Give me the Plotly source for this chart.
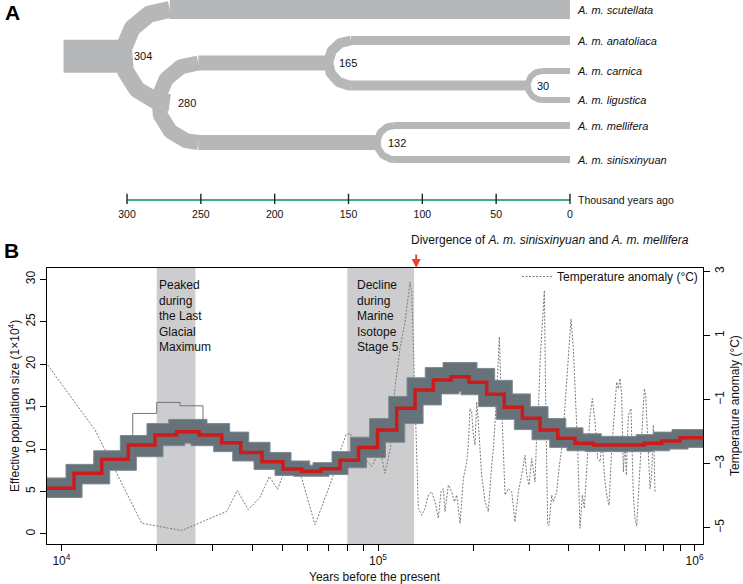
import numpy as np
import plotly.graph_objects as go

FONT = "Liberation Sans, Arial, Helvetica, sans-serif"

# ---------------- Panel A data: divergence tree (thousand years ago) ----------------
tip_names = ["A. m. scutellata", "A. m. anatoliaca", "A. m. carnica",
             "A. m. ligustica", "A. m. mellifera", "A. m. sinisxinyuan"]
tip_lane = [9.5, 40.5, 71.0, 100.0, 125.5, 159.5]      # vertical lane of each tip
tip_width = [19, 9, 6, 6, 7, 7]
node_label = ["304", "280", "165", "30", "132"]
node_age = [304, 280, 165, 30, 132]
node_children = [("t0", "n1"), ("n2", "n4"), ("t1", "n3"), ("t2", "t3"), ("t4", "t5")]
node_arc_width = [17, 15, 10, 6, 7]
node_stem_width = [33, 15, 15, 10, 15]
node_label_shift = [11, 19, 11, 9, 11]
root_stem_age = 343
tree_ticks = [300, 250, 200, 150, 100, 50, 0]

# ---------------- Panel B data: PSMC + temperature ----------------
psmc_time = [8800, 10960, 13410, 16270, 19750, 23130, 27200, 32080, 36850, 43010,
             50110, 57410, 66070, 75860, 86780, 99640, 114600, 130900, 149500, 170100,
             193800, 220400, 250600, 285700, 324900, 369600, 419000, 478600, 693600,
             787000, 899300, 1100000]
psmc_ne = [5.38, 7.15, 8.8, 10.48, 11.66, 12.05, 11.66, 10.75, 9.6, 8.5,
           7.64, 7.4, 7.68, 8.68, 10.2, 12.25, 14.8, 16.96, 18.14, 18.53,
           17.86, 16.45, 14.92, 13.62, 12.25, 11.27, 10.68, 10.47, 10.68, 10.96, 11.34]
# bootstrap envelope (upper / lower edges of the grey replicate band)
boot_upper_time = [8800, 10340, 12650, 15350, 18630, 21820, 28830, 34000, 39060, 45590,
                   53120, 60850, 62330, 71570, 81870, 94000, 108100, 123500, 141000, 160500,
                   205400, 233600, 265600, 302800, 344400, 391800, 444100, 507300, 654300,
                   742500, 848400, 1100000]
boot_upper = [6.6, 8.2, 9.8, 11.6, 13.0, 13.5, 13.0, 12.0, 10.8, 9.6,
              8.6, 8.1, 8.4, 9.7, 11.4, 13.6, 16.2, 18.4, 19.6, 20.2,
              19.5, 18.1, 16.5, 15.0, 13.6, 12.5, 11.8, 11.5, 11.7, 12.0, 12.3]
boot_lower_time = [8800, 11620, 14210, 17250, 20940, 24520, 25660, 30260, 34760, 40580,
                   47270, 54160, 70030, 80410, 91990, 105600, 121500, 138800, 158500, 180300,
                   182800, 207900, 236400, 269500, 306500, 348700, 395300, 451500, 735200,
                   834200, 953300, 1100000]
boot_lower = [4.3, 5.9, 7.5, 9.1, 10.4, 10.7, 10.4, 9.7, 8.6, 7.6,
              6.9, 6.8, 7.0, 7.8, 9.0, 10.8, 13.0, 15.2, 16.5, 16.8,
              16.4, 15.0, 13.5, 12.3, 11.1, 10.2, 9.8, 9.7, 9.8, 10.0, 10.2]
outlier_time = [13400, 16800, 20000, 23700, 28000, 33000, 37000]
outlier_ne = [9.0, 14.2, 15.5, 15.1, 12.9, 11.6, 11.6]

temp_time_ka = [9.05, 12.77, 17.93, 23.99, 33.27, 35.94, 38.94, 42.40, 45.36, 48.15,
                51.97, 57.41, 63.24, 71.42, 75.86, 79.24, 81.56, 86.67, 95.5, 101.5,
                105.2, 109.7, 113.2, 117.4, 121.7, 126.2, 127.8, 134.1, 137.4, 140.7,
                144.2, 147.7, 151.4, 155.1, 158.1, 160.8, 162.8, 166.8, 170.9, 174.3,
                177.3, 181.6, 186.1, 190.6, 192.9, 195.2, 197.6, 200.0, 202.5, 205.0,
                207.4, 212.5, 217.8, 223.1, 228.6, 231.4, 237.1, 240.0, 241.7, 244.1,
                248.9, 251.9, 258.0, 264.4, 270.8, 277.5, 284.3, 291.3, 294.9, 299.9,
                305.8, 313.3, 317.1, 320.9, 324.9, 330.5, 335.3, 338.6, 343.5, 346.9,
                353.7, 358.0, 366.8, 373.0, 380.3, 387.8, 394.4, 401.2, 407.0, 414.0,
                421.1, 427.3, 434.5, 442.0, 448.5, 456.2, 461.8, 467.3, 475.4, 484.7,
                494.2, 502.6, 511.2, 518.7, 527.6, 536.7, 547.2, 557.9, 567.4, 574.3,
                581.3, 588.5, 595.6, 602.9, 608.7, 617.6, 629.6, 640.4, 648.3, 656.2,
                664.2, 680.5, 693.9, 700.6, 714.3, 723.1, 731.8, 740.8, 749.7]
temp_anom = [0.08, -1.95, -4.86, -5.09, -4.49, -3.84, -4.44, -4.05, -3.40, -3.80,
             -2.95, -3.45, -4.91, -3.51, -2.62, -2.10, -2.05, -2.57, -3.09, -2.57,
             -3.30, -2.47, -0.59, 0.60, 1.42, 2.67, 2.36, -4.40, -4.61, -4.40,
             -3.98, -3.88, -4.19, -4.71, -3.88, -3.78, -4.50, -3.67, -3.88, -4.19,
             -3.98, -4.87, -3.46, -2.94, -2.42, -1.28, -1.38, -2.11, -2.42, -1.07,
             -1.70, -3.36, -4.19, -4.50, -3.05, -2.53, -0.86, 0.07, 0.96, -0.45,
             -2.94, -3.98, -3.78, -3.88, -4.82, -3.88, -3.36, -2.74, -3.36, -3.67,
             -2.84, -3.57, -2.11, -1.38, 0.18, 1.22, 2.41, -1.07, -4.92, -4.92,
             -3.98, -4.19, -3.88, -3.15, -2.53, -1.49, -0.34, 0.70, 1.52, 0.59,
             -0.86, -2.53, -5.02, -3.98, -4.40, -3.15, -2.53, -1.49, -0.97, -1.70,
             -2.84, -2.94, -2.32, -3.36, -3.98, -4.30, -2.53, -1.38, -0.45, -0.66,
             -0.34, -0.86, -3.26, -2.32, -3.36, -1.49, -1.28, -3.98, -4.71, -4.95,
             -3.98, -1.90, -0.66, -0.86, -2.53, -3.78, -3.36, -1.80, -3.88]

lgm_period = [20000, 26500]
mis5_period = [80000, 130000]
divergence_time = 132000
ne_ticks = [0, 5, 10, 15, 20, 25, 30]
temp_ticks = [-5, -3, -1, 1, 3]
x_major_ticks = [1e4, 1e5, 1e6]
x_major_text = ["10<sup>4</sup>", "10<sup>5</sup>", "10<sup>6</sup>"]
x_minor_ticks = [2e4, 3e4, 4e4, 5e4, 6e4, 7e4, 8e4, 9e4,
                 2e5, 3e5, 4e5, 5e5, 6e5, 7e5, 8e5, 9e5]

# ---------------- layout geometry ----------------
W, H = 743, 584
ML, MR, MT, MB = 47, 40, 0, 40
PW, PH = W - ML - MR, H - MT - MB
B_TOP = 268
A_BOTTOM = 204
A_X_RANGE = [354.2, -90.1]


def py(px_y):
    return (H - MB - px_y) / PH


def pxx(px_x):
    return (px_x - ML) / PW


ppk = PW / (A_X_RANGE[0] - A_X_RANGE[1])  # pixels per thousand years in panel A

TREE_GREY = "#b6b7b9"
fig = go.Figure()

# ---- Panel B: shaded periods (base axis = temperature) ----
for per in (lgm_period, mis5_period):
    fig.add_trace(go.Scatter(x=[per[0], per[1], per[1], per[0], per[0]],
                             y=[-20, -20, 20, 20, -20], fill="toself",
                             fillcolor="#cdcdcf", line=dict(width=0),
                             mode="lines", xaxis="x", yaxis="y",
                             showlegend=False, hoverinfo="skip"))

fig.add_trace(go.Scatter(x=[t * 1000 for t in temp_time_ka], y=temp_anom,
                         mode="lines", name="Temperature anomaly (°C)",
                         line=dict(color="#7a7a7a", width=1, dash="2px,1.5px"),
                         xaxis="x", yaxis="y", hoverinfo="skip"))

# ---- PSMC bootstrap band and main curve (overlay axis = Ne) ----
fig.add_trace(go.Scatter(x=boot_lower_time, y=boot_lower + [boot_lower[-1]], mode="lines",
                         line=dict(color="#7f898f", width=1, shape="hv"),
                         xaxis="x", yaxis="y3", showlegend=False, hoverinfo="skip"))
fig.add_trace(go.Scatter(x=boot_upper_time, y=boot_upper + [boot_upper[-1]], mode="lines",
                         line=dict(color="#7f898f", width=1, shape="hv"),
                         fill="tonexty", fillcolor="#66727a",
                         xaxis="x", yaxis="y3", showlegend=False, hoverinfo="skip"))
fig.add_trace(go.Scatter(x=outlier_time, y=outlier_ne, mode="lines",
                         line=dict(color="#6c777e", width=1, shape="hv"),
                         xaxis="x", yaxis="y3", showlegend=False, hoverinfo="skip"))
fig.add_trace(go.Scatter(x=psmc_time, y=psmc_ne + [psmc_ne[-1]], mode="lines",
                         line=dict(color="#cc1b1b", width=3.5, shape="hv"),
                         xaxis="x", yaxis="y3", showlegend=False, hoverinfo="skip"))

# ---- Panel A: tree ----
tips = {f"t{i}": i for i in range(len(tip_names))}
nodes = {f"n{i}": i for i in range(len(node_age))}


def lane(key):
    if key in tips:
        return tip_lane[tips[key]]
    a, b = node_children[nodes[key]]
    return (lane(a) + lane(b)) / 2


def left_age(key):
    return node_age[nodes[key]] - 2 / ppk


def seg(xs, ys, w):
    fig.add_trace(go.Scatter(x=xs, y=ys, mode="lines",
                             line=dict(color=TREE_GREY, width=w),
                             xaxis="x2", yaxis="y2", showlegend=False,
                             hoverinfo="skip"))


seg([root_stem_age, left_age("n0")], [lane("n0"), lane("n0")], node_stem_width[0])
for key, i in nodes.items():
    c0, c1 = node_children[i]
    r = (lane(c1) - lane(c0)) / 2
    cy = lane(key)
    age_c = left_age(key) - r / ppk
    phi = np.linspace(-np.pi / 2, np.pi / 2, 80)
    seg(list(age_c + (r / ppk) * np.cos(phi)), list(cy + r * np.sin(phi)),
        node_arc_width[i])
    for c in (c0, c1):
        if c in tips:
            end, w = 0, tip_width[tips[c]]
        else:
            end, w = left_age(c), node_stem_width[nodes[c]]
        if end < age_c:
            seg([age_c, end], [lane(c), lane(c)], w)

# tree time axis
fig.add_trace(go.Scatter(x=[tree_ticks[0], tree_ticks[-1]], y=[200, 200], mode="lines",
                         line=dict(color="#45a882", width=1.8),
                         xaxis="x2", yaxis="y2", showlegend=False, hoverinfo="skip"))
fig.add_trace(go.Scatter(x=tree_ticks, y=[200] * len(tree_ticks), mode="markers",
                         marker=dict(symbol="line-ns", size=9,
                                     line=dict(color="#222222", width=1.4)),
                         xaxis="x2", yaxis="y2", showlegend=False, hoverinfo="skip"))

annotations = []
for i, name in enumerate(tip_names):
    annotations.append(dict(x=-3.5, y=tip_lane[i], xref="x2", yref="y2",
                            text=f"<i>{name}</i>", showarrow=False, xanchor="left",
                            yanchor="middle", font=dict(size=11, color="#111")))
for key, i in nodes.items():
    annotations.append(dict(x=node_age[i], y=lane(key), xref="x2", yref="y2",
                            text=node_label[i], showarrow=False, xanchor="left",
                            yanchor="middle", xshift=node_label_shift[i],
                            font=dict(size=11, color="#111")))
annotations.append(dict(x=-4, y=200, xref="x2", yref="y2", text="Thousand years ago",
                        showarrow=False, xanchor="left", yanchor="middle",
                        font=dict(size=10.5, color="#111")))
annotations.append(dict(x=pxx(12), y=py(12), xref="paper", yref="paper", text="<b>A</b>",
                        showarrow=False, xanchor="center", yanchor="middle",
                        font=dict(size=21, color="#000")))
annotations.append(dict(x=pxx(11), y=py(250), xref="paper", yref="paper", text="<b>B</b>",
                        showarrow=False, xanchor="center", yanchor="middle",
                        font=dict(size=21, color="#000")))

# axis titles
annotations.append(dict(x=pxx(375), y=py(577), xref="paper", yref="paper",
                        text="Years before the present", showarrow=False,
                        xanchor="center", yanchor="middle", font=dict(size=12, color="#111")))
annotations.append(dict(x=pxx(14), y=py(406), xref="paper", yref="paper",
                        text="Effective population size (1×10<sup>4</sup>)", textangle=-90,
                        showarrow=False, xanchor="center", yanchor="middle",
                        font=dict(size=12, color="#111")))
annotations.append(dict(x=pxx(735), y=py(406), xref="paper", yref="paper",
                        text="Temperature anomaly (°C)", textangle=-90,
                        showarrow=False, xanchor="center", yanchor="middle",
                        font=dict(size=12, color="#111")))

# panel B annotations
annotations.append(dict(x=np.log10(lgm_period[0]), y=py(276), xref="x", yref="paper",
                        text="Peaked<br>during<br>the Last<br>Glacial<br>Maximum",
                        showarrow=False, xanchor="left", yanchor="top", align="left",
                        xshift=0, font=dict(size=12, color="#111")))
annotations.append(dict(x=np.log10(mis5_period[0]), y=py(276), xref="x", yref="paper",
                        text="Decline<br>during<br>Marine<br>Isotope<br>Stage 5",
                        showarrow=False, xanchor="left", yanchor="top", align="left",
                        xshift=8, font=dict(size=12, color="#111")))
annotations.append(dict(x=np.log10(divergence_time), y=py(240), xref="x", yref="paper",
                        text="Divergence of <i>A. m. sinisxinyuan</i> and <i>A. m. mellifera</i>",
                        showarrow=False, xanchor="left", yanchor="middle", xshift=-7,
                        font=dict(size=12, color="#111")))
annotations.append(dict(x=np.log10(divergence_time), y=py(B_TOP), xref="x", yref="paper",
                        text="", showarrow=True, ax=0, ay=-15, arrowhead=2,
                        arrowsize=1, arrowwidth=1.8, arrowcolor="#e2462a", standoff=0))

axis_common = dict(showgrid=False, zeroline=False, linecolor="#000", linewidth=1,
                   tickcolor="#000", ticklen=6, tickwidth=1, automargin=False,
                   tickfont=dict(size=12, color="#111"))

fig.update_layout(
    width=W, height=H,
    margin=dict(l=ML, r=MR, t=MT, b=MB, autoexpand=False),
    paper_bgcolor="white", plot_bgcolor="rgba(0,0,0,0)",
    font=dict(family=FONT, color="#111"),
    hovermode=False,
    showlegend=True,
    legend=dict(x=1, xanchor="right", y=py(262), yanchor="top",
                bgcolor="rgba(0,0,0,0)", font=dict(size=12, color="#111"),
                itemwidth=30),
    xaxis=dict(type="log", range=[3.9545, 6.0265], domain=[0, 1], anchor="y",
               showline=True, mirror=True, ticks="outside",
               tickvals=x_major_ticks, ticktext=x_major_text,
               minor=dict(tickvals=x_minor_ticks, ticks="outside", ticklen=6,
                          tickcolor="#000", tickwidth=1, showgrid=False),
               **axis_common),
    yaxis=dict(domain=[0, py(B_TOP)], range=[-5.51, 3.11], side="right", anchor="x",
               showline=True, ticks="outside", tickvals=temp_ticks, tickangle=-90,
               **axis_common),
    yaxis3=dict(overlaying="y", side="left", range=[-1.18, 31.33], anchor="x",
                showline=True, ticks="outside", tickvals=ne_ticks, tickangle=-90,
                **axis_common),
    xaxis2=dict(domain=[0, 1], range=A_X_RANGE, anchor="y2", showgrid=False,
                zeroline=False, showline=False, ticks="", tickvals=tree_ticks,
                automargin=False,
                tickfont=dict(size=10.5, color="#111"), ticklabelstandoff=2),
    yaxis2=dict(domain=[py(A_BOTTOM), 1], range=[A_BOTTOM, 0], visible=False),
    annotations=annotations,
)

fig.write_html("out.html", config={"displayModeBar": False, "staticPlot": True},
               post_script="document.body.style.margin='0px';")
